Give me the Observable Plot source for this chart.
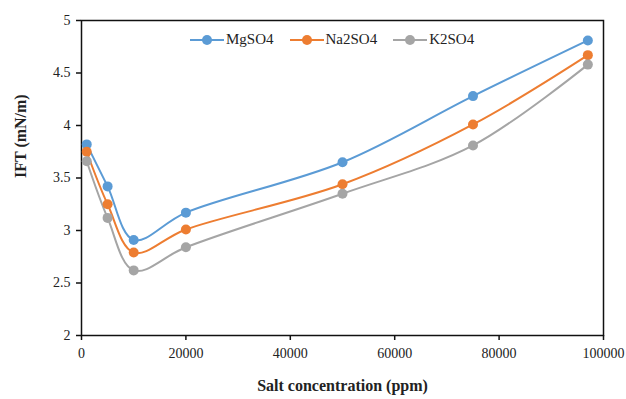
<!DOCTYPE html>
<html>
<head>
<meta charset="utf-8">
<script src="https://cdn.jsdelivr.net/npm/d3@7"></script>
<script src="https://cdn.jsdelivr.net/npm/@observablehq/plot@0.6"></script>
<style>
  html, body { margin: 0; padding: 0; background: #fff; }
  #wrap { position: relative; width: 626px; height: 399px; }
  #legend { position: absolute; left: 190px; top: 31px; display: flex; gap: 16px;
    font-family: "Liberation Serif", "Times New Roman", serif; font-size: 15px; color: #222; align-items: center; }
  .item { display: flex; align-items: center; }
  .sw { position: relative; width: 34px; height: 12px; margin-right: 2px; }
  .sw .ln { position: absolute; left: 0; right: 0; top: 5px; height: 2px; }
  .sw .dt { position: absolute; left: 12px; top: 1px; width: 10px; height: 10px; border-radius: 50%; }
</style>
</head>
<body>
<div id="wrap"><div id="legend"></div></div>
<script>
const concentrations = [1000, 5000, 10000, 20000, 50000, 75000, 97000];
const seriesNames = ["MgSO4", "Na2SO4", "K2SO4"];
const mgso4 = [3.82, 3.42, 2.91, 3.17, 3.65, 4.28, 4.81];
const na2so4 = [3.75, 3.25, 2.79, 3.01, 3.44, 4.01, 4.67];
const k2so4 = [3.66, 3.12, 2.62, 2.84, 3.35, 3.81, 4.58];
const colors = ["#5b9bd5", "#ed7d31", "#a5a5a5"];
const xTicks = [0, 20000, 40000, 60000, 80000, 100000];
const yTicks = [2, 2.5, 3, 3.5, 4, 4.5, 5];

const valuesBySeries = [mgso4, na2so4, k2so4];
const data = [];
seriesNames.forEach((s, i) => concentrations.forEach((c, j) => data.push({series: s, x: c, y: valuesBySeries[i][j]})));

const font = "'Liberation Serif', 'Times New Roman', serif";
const chart = Plot.plot({
  width: 626, height: 399,
  marginLeft: 81, marginRight: 23, marginTop: 20, marginBottom: 64,
  style: {fontFamily: font, fontSize: "14px", color: "#222", background: "white"},
  x: {domain: [0, 100000], ticks: xTicks, tickFormat: d => String(d), label: null},
  y: {domain: [2, 5], ticks: yTicks, tickFormat: d => String(d), label: null},
  color: {domain: seriesNames, range: colors},
  marks: [
    Plot.frame({stroke: "#111", strokeWidth: 1.5}),
    Plot.axisX({ticks: xTicks, tickFormat: d => String(d), tickSize: 5, tickPadding: 8, label: null, stroke: "#111", strokeWidth: 1.5, fontFamily: font}),
    Plot.axisY({ticks: yTicks, tickFormat: d => String(d), tickSize: 5, tickPadding: 6, label: null, stroke: "#111", strokeWidth: 1.5, fontFamily: font}),
    Plot.line(data, {x: "x", y: "y", z: "series", stroke: "series", strokeWidth: 2, curve: "catmull-rom"}),
    Plot.dot(data, {x: "x", y: "y", fill: "series", r: 5}),
    Plot.text(["Salt concentration (ppm)"], {text: d => d, frameAnchor: "bottom", dy: 55, fontWeight: "bold", fontSize: 16, fontFamily: font}),
    Plot.text(["IFT (mN/m)"], {text: d => d, frameAnchor: "left", dx: -61, rotate: -90, fontWeight: "bold", fontSize: 16, fontFamily: font})
  ]
});
document.getElementById("wrap").prepend(chart);

const legend = document.getElementById("legend");
seriesNames.forEach((s, i) => {
  const it = document.createElement("div");
  it.className = "item";
  it.innerHTML = `<div class="sw"><div class="ln" style="background:${colors[i]}"></div><div class="dt" style="background:${colors[i]}"></div></div><span>${s}</span>`;
  legend.appendChild(it);
});
</script>
</body>
</html>
